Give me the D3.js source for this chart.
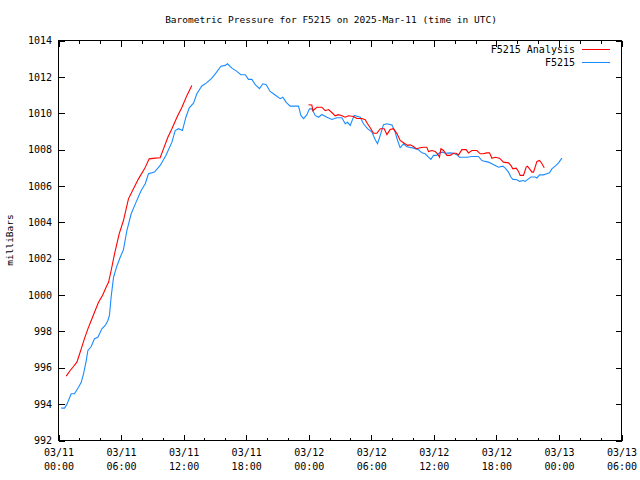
<!DOCTYPE html>
<html>
<head>
<meta charset="utf-8">
<script src="https://cdn.jsdelivr.net/npm/d3@7"></script>
<style>
  html, body { margin: 0; padding: 0; background: #fff; }
  svg { display: block; }
  text { font-family: "DejaVu Sans Mono", "Liberation Mono", monospace; font-size: 9.5px; fill: #000; }
</style>
</head>
<body>
<svg id="chart" width="640" height="480"></svg>
<script>
// ---- Data (hours since 2025-03-11 00:00 UTC) ----
const stationName = "F5215";
const analysisName = "F5215 Analysis";
const titleText = "Barometric Pressure for F5215 on 2025-Mar-11 (time in UTC)";
const yLabel = "milliBars";
const yTicks = [992, 994, 996, 998, 1000, 1002, 1004, 1006, 1008, 1010, 1012, 1014];
const xTickHours = [0, 6, 12, 18, 24, 30, 36, 42, 48, 54];
const xTickLabels = [["03/11","00:00"],["03/11","06:00"],["03/11","12:00"],["03/11","18:00"],["03/12","00:00"],["03/12","06:00"],["03/12","12:00"],["03/12","18:00"],["03/13","00:00"],["03/13","06:00"]];

const obsHours = [0.26,0.58,0.81,1.22,1.53,1.92,2.18,2.40,2.63,2.82,3.14,3.45,3.78,4.16,4.48,4.74,4.89,5.05,5.28,5.60,5.92,6.23,6.56,6.97,7.36,7.93,8.32,8.63,9.21,9.75,10.30,10.88,11.19,11.51,11.89,12.22,12.54,12.95,13.27,13.75,14.23,14.71,15.13,15.58,15.99,16.21,16.63,17.11,17.49,17.91,18.22,18.55,18.87,19.28,19.60,19.92,20.30,20.78,21.26,21.52,21.84,22.22,23.02,23.25,23.50,23.83,24.07,24.30,24.62,24.94,25.26,25.74,26.22,26.70,27.18,27.50,27.72,27.98,28.36,28.94,29.25,29.64,30.06,30.38,30.60,30.86,31.17,31.50,31.98,32.29,32.52,32.77,33.09,33.42,34.05,34.53,34.86,35.17,35.49,35.72,35.97,36.29,36.54,36.87,37.09,37.57,37.89,38.21,38.46,38.69,39.17,39.65,40.28,40.61,40.92,41.24,41.57,41.88,42.20,42.62,42.85,43.16,43.39,43.58,43.97,44.22,44.60,44.76,45.08,45.31,45.72,45.89,46.14,46.52,46.84,47.09,47.32,47.64,47.96,48.28];
const obsValues = [993.78,993.78,994.00,994.57,994.57,994.93,995.20,995.67,996.30,996.95,997.17,997.60,997.68,998.14,998.33,998.60,998.90,999.90,1000.98,1001.60,1002.08,1002.50,1003.55,1004.47,1005.00,1005.75,1006.12,1006.67,1006.76,1007.13,1007.68,1008.41,1009.05,1009.15,1009.05,1009.78,1010.30,1010.55,1011.07,1011.50,1011.68,1011.93,1012.23,1012.59,1012.63,1012.72,1012.48,1012.30,1012.12,1012.12,1011.86,1011.86,1011.57,1011.35,1011.62,1011.57,1011.20,1011.00,1010.80,1010.88,1010.60,1010.39,1010.39,1009.88,1009.70,1009.92,1010.24,1010.24,1009.88,1009.78,1009.93,1009.78,1009.66,1009.75,1009.75,1009.42,1009.50,1009.33,1009.88,1009.78,1009.42,1009.15,1008.96,1008.54,1008.32,1008.78,1009.37,1009.42,1009.35,1008.96,1008.50,1008.10,1008.32,1008.15,1008.08,1007.99,1007.82,1007.77,1007.58,1007.46,1007.68,1007.68,1007.82,1007.86,1007.80,1007.82,1007.80,1007.71,1007.58,1007.58,1007.58,1007.62,1007.62,1007.40,1007.35,1007.31,1007.22,1007.13,1007.03,1007.09,1006.98,1006.76,1006.49,1006.36,1006.34,1006.25,1006.30,1006.25,1006.39,1006.49,1006.49,1006.44,1006.61,1006.61,1006.67,1006.72,1006.94,1007.09,1007.27,1007.53];

// Analysis: null marks the gap between the two runs
const anaHours = [0.74,1.12,1.44,1.76,1.92,2.18,2.49,2.82,3.14,3.52,3.84,4.22,4.64,4.80,5.05,5.37,5.82,6.23,6.71,7.19,7.67,8.25,8.70,9.27,9.75,10.07,10.49,10.88,11.36,11.84,12.32,12.79,
  18.0,
  23.98,24.30,24.40,24.78,25.26,25.58,25.90,26.22,26.54,26.86,27.18,27.50,27.82,28.29,28.62,29.10,29.42,29.64,29.90,30.21,30.54,30.86,31.24,31.50,31.81,32.13,32.46,32.77,33.09,33.48,33.73,34.05,34.31,34.69,35.01,35.33,35.49,35.81,36.13,36.35,36.54,36.68,36.93,37.25,37.57,37.89,38.14,38.37,38.69,39.10,39.32,39.65,40.13,40.45,40.71,41.09,41.34,41.57,41.88,42.30,42.68,43.16,43.39,43.58,43.90,44.12,44.28,44.60,44.86,44.98,45.18,45.41,45.56,45.89,46.14,46.37,46.59];
const anaValues = [995.54,995.85,996.07,996.31,996.58,997.04,997.60,998.14,998.60,999.15,999.60,999.98,1000.53,1000.70,1001.35,1002.25,1003.37,1004.10,1005.29,1005.84,1006.39,1006.94,1007.49,1007.53,1007.55,1008.04,1008.68,1009.15,1009.78,1010.33,1010.98,1011.53,
  null,
  1010.47,1010.45,1010.14,1010.33,1010.33,1010.14,1010.20,1010.04,1009.86,1009.92,1009.86,1009.78,1009.86,1009.82,1009.71,1009.71,1009.64,1009.42,1009.20,1008.90,1008.90,1009.15,1009.15,1008.83,1009.10,1009.15,1008.88,1008.50,1008.38,1008.23,1008.26,1008.17,1008.05,1008.10,1008.13,1008.13,1007.89,1007.95,1007.89,1007.77,1007.58,1008.05,1007.95,1007.68,1007.68,1007.80,1007.80,1007.71,1008.00,1008.00,1007.82,1007.95,1007.95,1007.77,1007.77,1007.82,1007.82,1007.52,1007.58,1007.53,1007.31,1007.27,1007.13,1006.94,1006.98,1006.80,1006.58,1006.58,1007.04,1007.09,1006.94,1006.76,1006.76,1007.35,1007.40,1007.22,1007.00];

const obsColor = "#1a8cff";
const anaColor = "#ff0000";

// ---- Layout ----
const svg = d3.select("#chart");
const L = 58.5, R = 621.5, T = 40.5, B = 440.5;
const base = Date.UTC(2025, 2, 11, 0, 0, 0);
const toDate = h => new Date(base + h * 3600000);

const x = d3.scaleUtc().domain([toDate(0), toDate(54)]).range([L, R]);
const y = d3.scaleLinear().domain([992, 1014]).range([B, T]);

const g = svg.append("g");

// border
g.append("rect").attr("x", L).attr("y", T).attr("width", R - L).attr("height", B - T)
  .attr("fill", "none").attr("stroke", "#000").attr("stroke-width", 1).attr("shape-rendering", "crispEdges");

// minor x ticks every 2 hours
const minorHours = d3.range(0, 55, 2).filter(h => h % 6 !== 0);
const xAxisB = d3.axisBottom(x).tickValues(xTickHours.map(toDate)).tickSizeInner(-6).tickSizeOuter(0).tickPadding(9)
  .tickFormat((d, i) => xTickLabels[i][0]);
const gx = g.append("g").attr("transform", `translate(0,${B})`).call(xAxisB);
gx.select(".domain").remove();
gx.selectAll(".tick line").attr("shape-rendering", "crispEdges");
gx.selectAll(".tick text").each(function(d, i) {
  const t = d3.select(this);
  t.text(null).attr("y", 8).attr("dy", null);
  t.append("tspan").attr("x", 0).attr("dy", "0.71em").text(xTickLabels[i][0]);
  t.append("tspan").attr("x", 0).attr("dy", "14px").text(xTickLabels[i][1]);
});
const xMinorB = d3.axisBottom(x).tickValues(minorHours.map(toDate)).tickSizeInner(-3).tickSizeOuter(0).tickFormat("");
const gxm = g.append("g").attr("transform", `translate(0,${B})`).call(xMinorB);
gxm.select(".domain").remove();
gxm.selectAll("line").attr("shape-rendering", "crispEdges");

// mirrored top ticks
const xAxisT = d3.axisTop(x).tickValues(xTickHours.map(toDate)).tickSizeInner(-6).tickSizeOuter(0).tickFormat("");
const gxt = g.append("g").attr("transform", `translate(0,${T})`).call(xAxisT);
gxt.select(".domain").remove();
gxt.selectAll("line").attr("shape-rendering", "crispEdges");
const xMinorT = d3.axisTop(x).tickValues(minorHours.map(toDate)).tickSizeInner(-3).tickSizeOuter(0).tickFormat("");
const gxmt = g.append("g").attr("transform", `translate(0,${T})`).call(xMinorT);
gxmt.select(".domain").remove();
gxmt.selectAll("line").attr("shape-rendering", "crispEdges");

// y axis left
const yAxisL = d3.axisLeft(y).tickValues(yTicks).tickSizeInner(-6).tickSizeOuter(0).tickPadding(7).tickFormat(d3.format("d"));
const gy = g.append("g").attr("transform", `translate(${L},0)`).call(yAxisL);
gy.select(".domain").remove();
gy.selectAll("line").attr("shape-rendering", "crispEdges");
gy.selectAll("text").attr("x", -6.5);

// y axis right (mirror)
const yAxisR = d3.axisRight(y).tickValues(yTicks).tickSizeInner(-6).tickSizeOuter(0).tickFormat("");
const gyr = g.append("g").attr("transform", `translate(${R},0)`).call(yAxisR);
gyr.select(".domain").remove();
gyr.selectAll("line").attr("shape-rendering", "crispEdges");

svg.selectAll(".tick text").style("font-family", '"DejaVu Sans Mono", monospace').style("font-size", "10px").attr("fill", "#000");
svg.selectAll(".tick line").attr("stroke", "#000");

// lines
const line = d3.line()
  .defined(d => d.v !== null)
  .x(d => x(toDate(d.h)))
  .y(d => y(d.v));

const obs = obsHours.map((h, i) => ({ h, v: obsValues[i] }));
const ana = anaHours.map((h, i) => ({ h, v: anaValues[i] }));

g.append("path").datum(obs).attr("d", line).attr("fill", "none")
  .attr("stroke", obsColor).attr("stroke-width", 1.1);
g.append("path").datum(ana).attr("d", line).attr("fill", "none")
  .attr("stroke", anaColor).attr("stroke-width", 1.1);

// legend
const legend = [{ name: analysisName, color: anaColor }, { name: stationName, color: obsColor }];
legend.forEach((d, i) => {
  const ly = 49.5 + i * 13;
  svg.append("text").attr("x", 575).attr("y", ly).attr("dy", "0.35em").attr("text-anchor", "end")
    .style("font-size", "10px").text(d.name);
  svg.append("line").attr("x1", 582).attr("x2", 610).attr("y1", ly).attr("y2", ly)
    .attr("stroke", d.color).attr("stroke-width", 1).attr("shape-rendering", "crispEdges");
});

// title
svg.append("text").attr("x", 331).attr("y", 20).attr("dy", "0.35em").attr("text-anchor", "middle").text(titleText);

// y label
svg.append("text").attr("transform", "translate(10,240) rotate(-90)").attr("dy", "0.35em")
  .attr("text-anchor", "middle").text(yLabel);
</script>
</body>
</html>
